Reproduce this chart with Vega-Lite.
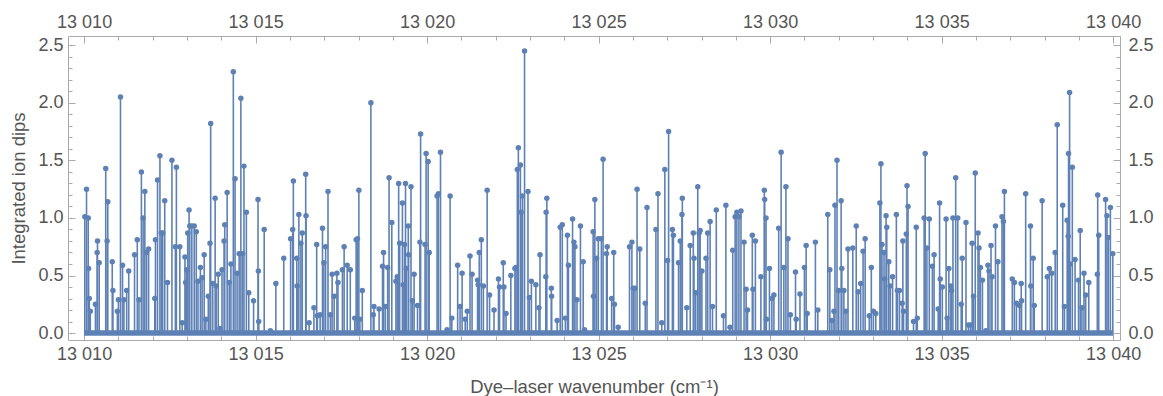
{
  "$schema": "https://vega.github.io/schema/vega-lite/v6.json",
  "width": 1052,
  "height": 304,
  "autosize": {"type": "none"},
  "padding": {"left": 68, "top": 36, "right": 43, "bottom": 56},
  "config": {
    "locale": {"number": {"decimal": ".", "thousands": " ", "grouping": [3], "currency": ["", ""]}},
    "view": {"stroke": "#aaaaaa", "strokeWidth": 1},
    "axis": {
      "labelFont": "Liberation Sans", "labelFontSize": 18, "labelColor": "#555555",
      "titleFont": "Liberation Sans", "titleFontSize": 18.5, "titleColor": "#555555", "titleFontWeight": "normal",
      "grid": false, "domain": false, "tickColor": "#aaaaaa", "tickWidth": 1
    }
  },
  "datasets": {
    "peaks": [
      {"wn":13010.02,"dip":1.01},{"wn":13010.07,"dip":1.25},{"wn":13010.12,"dip":1.00},{"wn":13010.13,"dip":0.56},{"wn":13010.15,"dip":0.30},{"wn":13010.18,"dip":0.19},{"wn":13010.33,"dip":0.25},{"wn":13010.38,"dip":0.70},{"wn":13010.39,"dip":0.80},{"wn":13010.44,"dip":0.61},{"wn":13010.63,"dip":1.43},{"wn":13010.67,"dip":0.80},{"wn":13010.69,"dip":1.14},{"wn":13010.82,"dip":0.62},{"wn":13010.84,"dip":0.37},{"wn":13010.97,"dip":0.19},{"wn":13011.00,"dip":0.29},{"wn":13011.06,"dip":2.05},{"wn":13011.12,"dip":0.59},{"wn":13011.16,"dip":0.29},{"wn":13011.24,"dip":0.37},{"wn":13011.30,"dip":0.54},{"wn":13011.47,"dip":0.68},{"wn":13011.55,"dip":0.81},{"wn":13011.60,"dip":0.29},{"wn":13011.67,"dip":1.40},{"wn":13011.72,"dip":1.00},{"wn":13011.77,"dip":1.23},{"wn":13011.82,"dip":0.70},{"wn":13011.88,"dip":0.73},{"wn":13012.06,"dip":0.30},{"wn":13012.08,"dip":0.81},{"wn":13012.14,"dip":1.33},{"wn":13012.21,"dip":1.54},{"wn":13012.25,"dip":0.87},{"wn":13012.29,"dip":0.87},{"wn":13012.35,"dip":1.15},{"wn":13012.43,"dip":0.44},{"wn":13012.56,"dip":1.50},{"wn":13012.66,"dip":0.75},{"wn":13012.69,"dip":1.44},
      {"wn":13012.79,"dip":0.75},{"wn":13012.86,"dip":0.09},{"wn":13012.94,"dip":0.66},{"wn":13012.96,"dip":0.44},{"wn":13012.99,"dip":0.55},{"wn":13013.02,"dip":0.87},{"wn":13013.06,"dip":1.07},{"wn":13013.08,"dip":0.93},{"wn":13013.14,"dip":0.93},{"wn":13013.21,"dip":0.93},{"wn":13013.27,"dip":0.88},{"wn":13013.32,"dip":0.45},{"wn":13013.39,"dip":0.57},{"wn":13013.44,"dip":0.48},{"wn":13013.50,"dip":0.68},{"wn":13013.55,"dip":0.12},{"wn":13013.62,"dip":0.32},{"wn":13013.67,"dip":0.78},{"wn":13013.69,"dip":1.82},{"wn":13013.75,"dip":0.43},{"wn":13013.82,"dip":1.17},{"wn":13013.85,"dip":0.41},{"wn":13013.91,"dip":0.51},{"wn":13013.96,"dip":0.04},{"wn":13014.02,"dip":0.55},{"wn":13014.08,"dip":0.80},{"wn":13014.10,"dip":0.94},{"wn":13014.17,"dip":1.22},{"wn":13014.23,"dip":0.44},{"wn":13014.28,"dip":0.60},{"wn":13014.35,"dip":2.27},{"wn":13014.40,"dip":1.34},{"wn":13014.46,"dip":0.52},{"wn":13014.52,"dip":0.69},{"wn":13014.57,"dip":2.04},{"wn":13014.62,"dip":0.69},{"wn":13014.66,"dip":1.45},{"wn":13014.73,"dip":1.05},{"wn":13014.80,"dip":0.35},{"wn":13014.94,"dip":0.28},{"wn":13015.07,"dip":1.16},{"wn":13015.08,"dip":0.54},{"wn":13015.09,"dip":0.10},{"wn":13015.25,"dip":0.90},{"wn":13015.43,"dip":0.02},
      {"wn":13015.59,"dip":0.43},{"wn":13015.82,"dip":0.65},{"wn":13016.02,"dip":0.82},{"wn":13016.08,"dip":0.90},{"wn":13016.10,"dip":1.32},{"wn":13016.20,"dip":0.65},{"wn":13016.21,"dip":0.41},{"wn":13016.26,"dip":1.03},{"wn":13016.32,"dip":0.78},{"wn":13016.36,"dip":0.87},{"wn":13016.46,"dip":1.38},{"wn":13016.47,"dip":1.02},{"wn":13016.56,"dip":0.09},{"wn":13016.70,"dip":0.22},{"wn":13016.78,"dip":0.77},{"wn":13016.80,"dip":0.15},{"wn":13016.88,"dip":0.16},{"wn":13016.95,"dip":0.91},{"wn":13016.99,"dip":0.61},{"wn":13017.04,"dip":0.75},{"wn":13017.11,"dip":1.23},{"wn":13017.18,"dip":0.16},{"wn":13017.23,"dip":0.51},{"wn":13017.29,"dip":0.32},{"wn":13017.37,"dip":0.52},{"wn":13017.40,"dip":0.44},{"wn":13017.53,"dip":0.55},{"wn":13017.58,"dip":0.75},{"wn":13017.67,"dip":0.59},{"wn":13017.76,"dip":0.55},{"wn":13017.89,"dip":0.13},{"wn":13017.93,"dip":0.81},{"wn":13017.97,"dip":0.82},{"wn":13018.01,"dip":1.24},{"wn":13018.04,"dip":0.12},{"wn":13018.11,"dip":0.37},{"wn":13018.36,"dip":2.00},
      {"wn":13018.43,"dip":0.16},{"wn":13018.45,"dip":0.23},{"wn":13018.60,"dip":0.21},{"wn":13018.70,"dip":0.58},{"wn":13018.73,"dip":0.70},{"wn":13018.78,"dip":0.23},{"wn":13018.85,"dip":0.57},{"wn":13018.89,"dip":1.35},{"wn":13018.97,"dip":0.96},{"wn":13019.09,"dip":0.45},{"wn":13019.13,"dip":0.49},{"wn":13019.17,"dip":1.30},{"wn":13019.20,"dip":0.78},{"wn":13019.28,"dip":1.13},{"wn":13019.30,"dip":0.42},{"wn":13019.34,"dip":0.77},{"wn":13019.37,"dip":1.30},{"wn":13019.39,"dip":0.56},{"wn":13019.45,"dip":0.93},{"wn":13019.46,"dip":0.68},{"wn":13019.53,"dip":1.27},{"wn":13019.57,"dip":0.28},{"wn":13019.62,"dip":0.51},{"wn":13019.72,"dip":0.24},{"wn":13019.79,"dip":0.79},{"wn":13019.81,"dip":1.73},{"wn":13019.94,"dip":0.77},{"wn":13019.97,"dip":1.56},{"wn":13020.03,"dip":1.49},{"wn":13020.06,"dip":0.70},{"wn":13020.29,"dip":1.19},{"wn":13020.33,"dip":1.21},{"wn":13020.39,"dip":1.57},{"wn":13020.58,"dip":0.03},{"wn":13020.67,"dip":1.19},{"wn":13020.72,"dip":0.13},{"wn":13020.89,"dip":0.59},{"wn":13020.96,"dip":0.23},{"wn":13021.02,"dip":0.52},{"wn":13021.11,"dip":0.12},{"wn":13021.17,"dip":0.19},
      {"wn":13021.25,"dip":0.67},{"wn":13021.31,"dip":0.51},{"wn":13021.47,"dip":0.46},{"wn":13021.49,"dip":0.42},{"wn":13021.52,"dip":0.70},{"wn":13021.58,"dip":0.81},{"wn":13021.64,"dip":0.41},{"wn":13021.75,"dip":1.24},{"wn":13021.82,"dip":0.33},{"wn":13021.95,"dip":0.20},{"wn":13022.08,"dip":0.47},{"wn":13022.11,"dip":0.40},{"wn":13022.22,"dip":0.61},{"wn":13022.24,"dip":0.40},{"wn":13022.30,"dip":0.17},{"wn":13022.44,"dip":0.50},{"wn":13022.56,"dip":0.56},{"wn":13022.59,"dip":0.57},{"wn":13022.63,"dip":1.42},{"wn":13022.66,"dip":1.61},{"wn":13022.72,"dip":1.46},{"wn":13022.74,"dip":1.05},{"wn":13022.78,"dip":1.19},{"wn":13022.84,"dip":2.45},{"wn":13022.94,"dip":1.23},{"wn":13022.98,"dip":0.31},{"wn":13023.04,"dip":0.45},{"wn":13023.17,"dip":0.42},{"wn":13023.26,"dip":0.22},{"wn":13023.29,"dip":0.68},{"wn":13023.46,"dip":0.49},{"wn":13023.47,"dip":1.05},{"wn":13023.49,"dip":1.17},{"wn":13023.62,"dip":0.39},{"wn":13023.63,"dip":0.32},{"wn":13023.79,"dip":0.11},{"wn":13023.88,"dip":0.92},{"wn":13023.94,"dip":0.94},{"wn":13024.03,"dip":0.13},
      {"wn":13024.09,"dip":0.85},{"wn":13024.12,"dip":0.59},{"wn":13024.24,"dip":0.99},{"wn":13024.28,"dip":0.79},{"wn":13024.31,"dip":0.75},{"wn":13024.37,"dip":0.29},{"wn":13024.47,"dip":0.93},{"wn":13024.55,"dip":0.62},{"wn":13024.59,"dip":0.03},{"wn":13024.84,"dip":0.88},{"wn":13024.85,"dip":0.32},{"wn":13024.89,"dip":1.16},{"wn":13024.94,"dip":0.65},{"wn":13024.99,"dip":0.82},{"wn":13025.08,"dip":0.82},{"wn":13025.13,"dip":1.51},{"wn":13025.23,"dip":0.69},{"wn":13025.25,"dip":0.75},{"wn":13025.38,"dip":0.30},{"wn":13025.44,"dip":0.70},{"wn":13025.46,"dip":0.25},{"wn":13025.57,"dip":0.05},{"wn":13025.90,"dip":0.75},{"wn":13025.97,"dip":0.79},{"wn":13026.01,"dip":0.39},{"wn":13026.06,"dip":0.39},{"wn":13026.12,"dip":1.25},{"wn":13026.20,"dip":0.73},{"wn":13026.36,"dip":0.26},{"wn":13026.41,"dip":1.09},{"wn":13026.67,"dip":0.90},{"wn":13026.73,"dip":1.21},{"wn":13026.84,"dip":0.09},
      {"wn":13026.93,"dip":1.42},{"wn":13027.01,"dip":0.63},{"wn":13027.04,"dip":1.75},{"wn":13027.15,"dip":0.90},{"wn":13027.18,"dip":0.85},{"wn":13027.33,"dip":0.61},{"wn":13027.38,"dip":0.80},{"wn":13027.43,"dip":1.03},{"wn":13027.44,"dip":1.17},{"wn":13027.57,"dip":0.22},{"wn":13027.67,"dip":0.76},{"wn":13027.76,"dip":0.87},{"wn":13027.78,"dip":0.65},{"wn":13027.83,"dip":0.35},{"wn":13027.89,"dip":1.27},{"wn":13027.93,"dip":0.87},{"wn":13027.96,"dip":0.89},{"wn":13028.01,"dip":0.54},{"wn":13028.13,"dip":0.65},{"wn":13028.18,"dip":0.87},{"wn":13028.25,"dip":0.97},{"wn":13028.32,"dip":0.23},{"wn":13028.43,"dip":1.07},{"wn":13028.64,"dip":0.15},{"wn":13028.71,"dip":1.11},{"wn":13028.83,"dip":0.05},{"wn":13028.91,"dip":0.72},{"wn":13028.98,"dip":1.01},{"wn":13029.03,"dip":1.05},{"wn":13029.09,"dip":1.01},{"wn":13029.15,"dip":1.06},{"wn":13029.24,"dip":0.79},{"wn":13029.30,"dip":0.38},{"wn":13029.34,"dip":0.20},{"wn":13029.48,"dip":0.85},{"wn":13029.50,"dip":0.38},{"wn":13029.57,"dip":0.80},{"wn":13029.73,"dip":0.49},
      {"wn":13029.83,"dip":1.24},{"wn":13029.84,"dip":1.16},{"wn":13029.88,"dip":1.00},{"wn":13029.89,"dip":0.12},{"wn":13029.98,"dip":0.56},{"wn":13030.05,"dip":0.30},{"wn":13030.11,"dip":0.33},{"wn":13030.25,"dip":0.91},{"wn":13030.32,"dip":1.57},{"wn":13030.40,"dip":0.57},{"wn":13030.46,"dip":1.27},{"wn":13030.52,"dip":0.82},{"wn":13030.59,"dip":0.16},{"wn":13030.74,"dip":0.53},{"wn":13030.76,"dip":0.12},{"wn":13030.87,"dip":0.34},{"wn":13031.00,"dip":0.57},{"wn":13031.05,"dip":0.76},{"wn":13031.08,"dip":0.17},{"wn":13031.32,"dip":0.79},{"wn":13031.39,"dip":0.20},{"wn":13031.68,"dip":1.03},{"wn":13031.74,"dip":0.55},{"wn":13031.80,"dip":0.11},{"wn":13031.86,"dip":0.19},{"wn":13031.89,"dip":1.11},{"wn":13031.95,"dip":1.50},{"wn":13032.00,"dip":0.37},{"wn":13032.07,"dip":1.15},{"wn":13032.09,"dip":0.56},{"wn":13032.15,"dip":0.37},{"wn":13032.21,"dip":0.19},{"wn":13032.27,"dip":0.73},{"wn":13032.41,"dip":0.74},{"wn":13032.51,"dip":0.93},
      {"wn":13032.57,"dip":0.36},{"wn":13032.64,"dip":0.43},{"wn":13032.71,"dip":0.71},{"wn":13032.77,"dip":0.82},{"wn":13032.89,"dip":0.15},{"wn":13032.95,"dip":0.57},{"wn":13033.01,"dip":0.19},{"wn":13033.08,"dip":0.17},{"wn":13033.20,"dip":1.13},{"wn":13033.23,"dip":1.47},{"wn":13033.26,"dip":0.77},{"wn":13033.32,"dip":0.70},{"wn":13033.34,"dip":0.47},{"wn":13033.38,"dip":1.02},{"wn":13033.40,"dip":0.92},{"wn":13033.46,"dip":0.62},{"wn":13033.50,"dip":0.41},{"wn":13033.57,"dip":0.49},{"wn":13033.68,"dip":1.03},{"wn":13033.71,"dip":0.37},{"wn":13033.77,"dip":0.37},{"wn":13033.85,"dip":0.26},{"wn":13033.87,"dip":0.80},{"wn":13033.89,"dip":0.19},{"wn":13033.97,"dip":0.86},{"wn":13033.99,"dip":1.28},{"wn":13034.02,"dip":1.10},{"wn":13034.18,"dip":0.10},{"wn":13034.26,"dip":0.92},{"wn":13034.29,"dip":0.13},{"wn":13034.49,"dip":1.00},{"wn":13034.52,"dip":1.56},{"wn":13034.57,"dip":0.74},{"wn":13034.64,"dip":0.99},{"wn":13034.73,"dip":0.58},{"wn":13034.78,"dip":0.68},{"wn":13034.90,"dip":0.21},{"wn":13034.94,"dip":1.13},{"wn":13034.96,"dip":0.47},{"wn":13035.02,"dip":0.40},{"wn":13035.13,"dip":0.99},{"wn":13035.16,"dip":0.13},{"wn":13035.21,"dip":0.56},{"wn":13035.27,"dip":0.41},{"wn":13035.29,"dip":0.37},{"wn":13035.33,"dip":1.00},
      {"wn":13035.41,"dip":1.35},{"wn":13035.47,"dip":1.00},{"wn":13035.57,"dip":0.25},{"wn":13035.60,"dip":0.65},{"wn":13035.71,"dip":0.96},{"wn":13035.78,"dip":0.07},{"wn":13035.84,"dip":0.07},{"wn":13035.89,"dip":0.78},{"wn":13035.93,"dip":0.32},{"wn":13035.98,"dip":1.39},{"wn":13036.06,"dip":0.87},{"wn":13036.09,"dip":0.74},{"wn":13036.13,"dip":0.57},{"wn":13036.19,"dip":0.46},{"wn":13036.29,"dip":0.02},{"wn":13036.35,"dip":0.59},{"wn":13036.38,"dip":0.54},{"wn":13036.44,"dip":0.76},{"wn":13036.47,"dip":0.49},{"wn":13036.57,"dip":0.93},{"wn":13036.64,"dip":0.62},{"wn":13036.76,"dip":1.01},{"wn":13036.80,"dip":0.97},{"wn":13036.83,"dip":1.23},{"wn":13037.06,"dip":0.47},{"wn":13037.12,"dip":0.44},{"wn":13037.18,"dip":0.26},{"wn":13037.27,"dip":0.24},{"wn":13037.32,"dip":0.43},{"wn":13037.33,"dip":0.28},{"wn":13037.45,"dip":1.21},{"wn":13037.59,"dip":0.93},{"wn":13037.60,"dip":0.41},{"wn":13037.67,"dip":0.65},{"wn":13037.70,"dip":0.24},{"wn":13037.93,"dip":1.15},{"wn":13038.08,"dip":0.49},{"wn":13038.14,"dip":0.56},
      {"wn":13038.21,"dip":0.52},{"wn":13038.31,"dip":0.70},{"wn":13038.37,"dip":1.81},{"wn":13038.53,"dip":1.11},{"wn":13038.58,"dip":0.23},{"wn":13038.66,"dip":0.98},{"wn":13038.69,"dip":0.84},{"wn":13038.70,"dip":1.56},{"wn":13038.73,"dip":2.09},{"wn":13038.75,"dip":0.60},{"wn":13038.81,"dip":1.44},{"wn":13038.89,"dip":0.64},{"wn":13038.99,"dip":0.46},{"wn":13039.04,"dip":0.89},{"wn":13039.09,"dip":0.22},{"wn":13039.15,"dip":0.52},{"wn":13039.20,"dip":0.33},{"wn":13039.29,"dip":0.44},{"wn":13039.54,"dip":0.51},{"wn":13039.55,"dip":1.20},{"wn":13039.58,"dip":0.85},{"wn":13039.78,"dip":1.16},{"wn":13039.82,"dip":1.02},{"wn":13039.86,"dip":0.83},{"wn":13039.92,"dip":1.09},{"wn":13039.99,"dip":0.69}
    ],
    "base": [{"start": 13010, "end": 13040, "level": 0}]
  },
  "layer": [
    {
      "data": {"name": "peaks"},
      "mark": {"type": "rule", "color": "#5E81B5", "strokeWidth": 1.6},
      "encoding": {
        "x": {"field": "wn", "type": "quantitative",
          "scale": {"domain": [13009.53, 13040.2], "nice": false, "zero": false},
          "axis": {"orient": "bottom", "values": [13010, 13015, 13020, 13025, 13030, 13035, 13040], "format": ",d",
            "tickSize": -7, "labelPadding": 12, "title": "Dye\u2013laser wavenumber (cm\u207b\u00b9)", "titlePadding": 14}},
        "y": {"field": "dip", "type": "quantitative",
          "scale": {"domain": [-0.06, 2.58], "nice": false, "zero": false},
          "axis": {"orient": "left", "values": [0, 0.5, 1, 1.5, 2, 2.5], "format": ".1f",
            "tickSize": -7, "labelPadding": 12, "title": "Integrated ion dips", "titlePadding": 9}},
        "y2": {"datum": 0}
      }
    },
    {
      "data": {"name": "peaks"},
      "mark": {"type": "point", "filled": true, "color": "#5E81B5", "size": 30, "opacity": 1},
      "encoding": {
        "x": {"field": "wn", "type": "quantitative",
          "scale": {"domain": [13009.53, 13040.2], "nice": false, "zero": false},
          "axis": {"orient": "top", "values": [13010, 13015, 13020, 13025, 13030, 13035, 13040], "format": ",d",
            "tickSize": -7, "labelPadding": 12, "title": null}},
        "y": {"field": "dip", "type": "quantitative",
          "scale": {"domain": [-0.06, 2.58], "nice": false, "zero": false},
          "axis": {"orient": "right", "values": [0, 0.5, 1, 1.5, 2, 2.5], "format": ".1f",
            "tickSize": -7, "labelPadding": 15, "title": null}}
      }
    },
    {
      "data": {"name": "base"},
      "mark": {"type": "rule", "color": "#5E81B5", "strokeWidth": 5},
      "encoding": {
        "x": {"field": "start", "type": "quantitative",
          "scale": {"domain": [13009.53, 13040.2], "nice": false, "zero": false},
          "axis": {"orient": "bottom", "values": [13010, 13011, 13012, 13013, 13014, 13015, 13016, 13017, 13018, 13019, 13020, 13021, 13022, 13023, 13024, 13025, 13026, 13027, 13028, 13029, 13030, 13031, 13032, 13033, 13034, 13035, 13036, 13037, 13038, 13039, 13040],
            "labels": false, "tickSize": -4, "title": null}},
        "x2": {"field": "end"},
        "y": {"field": "level", "type": "quantitative",
          "scale": {"domain": [-0.06, 2.58], "nice": false, "zero": false},
          "axis": {"orient": "left", "values": [0, 0.1, 0.2, 0.3, 0.4, 0.5, 0.6, 0.7, 0.8, 0.9, 1, 1.1, 1.2, 1.3, 1.4, 1.5, 1.6, 1.7, 1.8, 1.9, 2, 2.1, 2.2, 2.3, 2.4, 2.5],
            "labels": false, "tickSize": -4, "title": null}}
      }
    },
    {
      "data": {"name": "base"},
      "mark": {"type": "rule", "color": "#5E81B5", "strokeWidth": 5},
      "encoding": {
        "x": {"field": "start", "type": "quantitative",
          "scale": {"domain": [13009.53, 13040.2], "nice": false, "zero": false},
          "axis": {"orient": "top", "values": [13010, 13011, 13012, 13013, 13014, 13015, 13016, 13017, 13018, 13019, 13020, 13021, 13022, 13023, 13024, 13025, 13026, 13027, 13028, 13029, 13030, 13031, 13032, 13033, 13034, 13035, 13036, 13037, 13038, 13039, 13040],
            "labels": false, "tickSize": -4, "title": null}},
        "x2": {"field": "end"},
        "y": {"field": "level", "type": "quantitative",
          "scale": {"domain": [-0.06, 2.58], "nice": false, "zero": false},
          "axis": {"orient": "right", "values": [0, 0.1, 0.2, 0.3, 0.4, 0.5, 0.6, 0.7, 0.8, 0.9, 1, 1.1, 1.2, 1.3, 1.4, 1.5, 1.6, 1.7, 1.8, 1.9, 2, 2.1, 2.2, 2.3, 2.4, 2.5],
            "labels": false, "tickSize": -4, "title": null}}
      }
    }
  ],
  "resolve": {"axis": {"x": "independent", "y": "independent"}}
}
